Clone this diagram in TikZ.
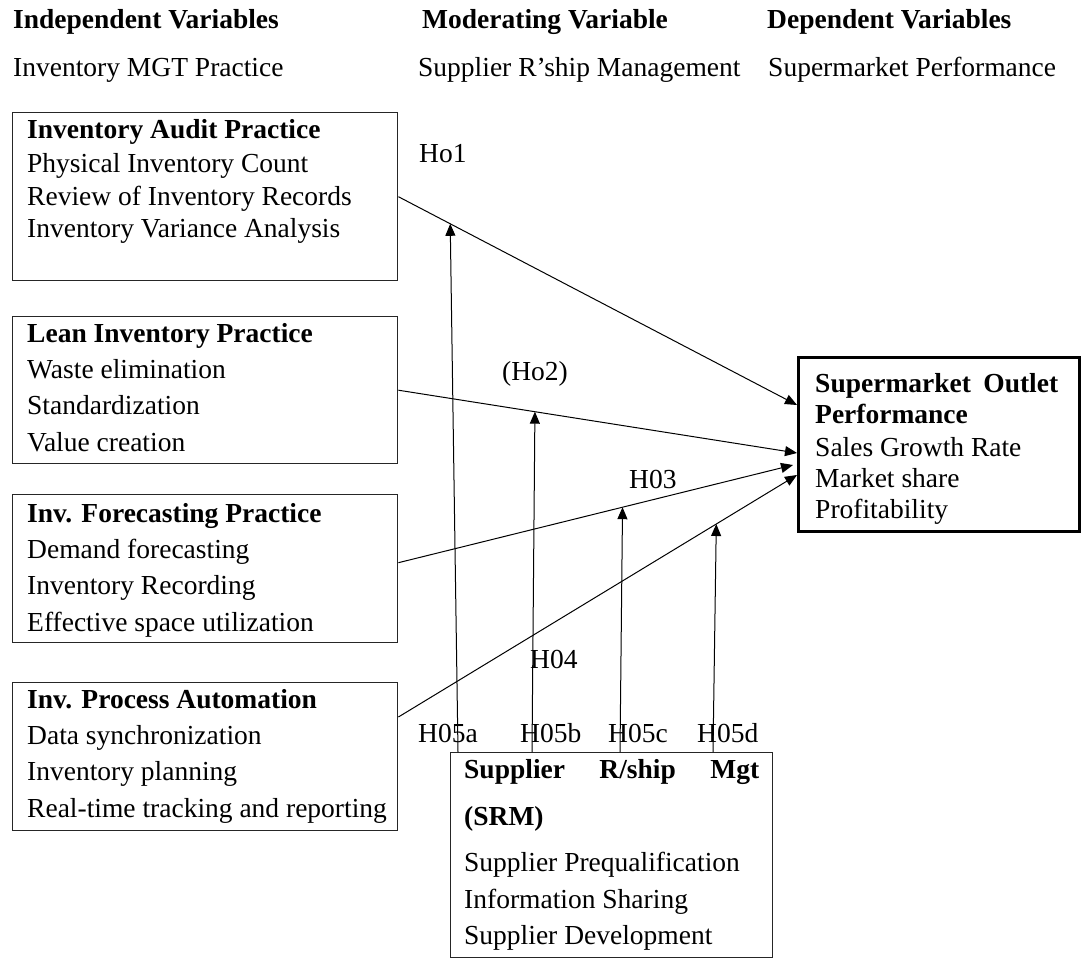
\documentclass[tikz,border=0pt]{standalone}
\usepackage{fontspec}
\setmainfont{Liberation Serif}
\usetikzlibrary{arrows.meta,calc}
\newcommand\fzmain{\fontsize{27.5pt}{36.3pt}\selectfont}
\begin{document}
\begin{tikzpicture}[x=1pt,y=-1pt,
  every node/.style={inner sep=0pt, font=\fzmain},
  boxnode/.style={draw=black!85, line width=1.4pt, anchor=north west, inner sep=0pt},
  bodytext/.style={align=left, anchor=north west},
  lab/.style={anchor=base west},
  conn/.style={line width=1pt, -{Triangle[length=12pt,width=10pt]}}]
\useasboundingbox (0,0) rectangle (1081,958);

% headers
\node[lab] (h1) at (13,29) {\textbf{Independent Variables}};
\node[lab] (h2) at (422,29) {\textbf{Moderating Variable}};
\node[lab] (h3) at (767,29) {\textbf{Dependent Variables}};
\node[lab] (s1) at (13,76) {Inventory MGT Practice};
\node[lab] (s2) at (418,76) {Supplier R’ship Management};
\node[lab] (s3) at (768,76) {Supermarket Performance};

% independent boxes
\node[boxnode, minimum width=385pt, minimum height=168pt] (b1) at (12,112) {};
\node[bodytext, font=\fontsize{27.5pt}{32.5pt}\selectfont] (t1) at (27,119)
  {\textbf{Inventory Audit Practice}\\[2pt] Physical Inventory Count\\ Review of Inventory Records\\ Inventory Variance Analysis};

\node[boxnode, minimum width=385pt, minimum height=147pt] (b2) at (12,316) {};
\node[bodytext] (t2) at (27,323)
  {\textbf{Lean Inventory Practice}\\ Waste elimination\\ Standardization\\ Value creation};

\node[boxnode, minimum width=385pt, minimum height=148pt] (b3) at (12,494) {};
\node[bodytext] (t3) at (27,503)
  {\textbf{Inv. Forecasting Practice}\\ Demand forecasting\\ Inventory Recording\\ Effective space utilization};

\node[boxnode, minimum width=385pt, minimum height=148pt] (b4) at (12,682) {};
\node[bodytext] (t4) at (27,689)
  {\textbf{Inv. Process Automation}\\ Data synchronization\\ Inventory planning\\ Real-time tracking and reporting};

% dependent box
\node[boxnode, line width=2.5pt, draw=black, minimum width=281pt, minimum height=174pt] (sop) at (797,356) {};
\node[bodytext, font=\fontsize{27.5pt}{31pt}\selectfont] (t5) at (815,373)
  {\textbf{Supermarket\hspace{12.4pt}Outlet}\\ \textbf{Performance}\\[2pt] Sales Growth Rate\\ Market share\\ Profitability};

% moderator box
\node[boxnode, minimum width=322pt, minimum height=205pt] (srm) at (450,752) {};
\node[bodytext] (t6) at (464,759)
  {\makebox[295pt][s]{\textbf{Supplier\hfill R/ship\hfill Mgt}}\\[10.5pt] \textbf{(SRM)}\\[10.5pt] Supplier Prequalification\\ Information Sharing\\ Supplier Development};

% hypothesis labels
\node[lab] (l1) at (419,162) {Ho1};
\node[lab] (l2) at (502,380) {(Ho2)};
\node[lab] (l3) at (629,488) {H03};
\node[lab] (l4) at (530,668) {H04};
\node[lab] (l5a) at (418,742) {H05a};
\node[lab] (l5b) at (520,742) {H05b};
\node[lab] (l5c) at (608,742) {H05c};
\node[lab] (l5d) at (697,742) {H05d};

% connector end points
\coordinate (e1) at ($(sop.north west)+(0,49)$);
\coordinate (e2) at ($(sop.north west)+(0,97)$);
\coordinate (e3) at ($(sop.north west)+(-4,109)$);
\coordinate (e4) at ($(sop.north west)+(0,119)$);
\coordinate (a3) at ($(b3.east)+(0,-6)$);
\coordinate (a4) at ($(b4.north east)+(0,35)$);

\draw[conn] (b1.east) -- (e1);
\draw[conn] (b2.east) -- (e2);
\draw[conn] (a3) -- (e3);
\draw[conn] (a4) -- (e4);

% moderating arrows
\coordinate (m1) at ($(b1.east)!0.13!(e1)$);
\coordinate (m2) at ($(b2.east)!0.3425!(e2)$);
\coordinate (m3) at ($(a3)!0.568!(e3)$);
\coordinate (m4) at ($(a4)!0.7975!(e4)$);
\coordinate (q1) at ($(srm.north west)+(8,0)$);
\coordinate (q2) at ($(srm.north west)+(82,0)$);
\coordinate (q3) at ($(srm.north west)+(170,0)$);
\coordinate (q4) at ($(srm.north west)+(263,0)$);

\draw[conn] (q1) -- (m1);
\draw[conn] (q2) -- (m2);
\draw[conn] (q3) -- (m3);
\draw[conn] (q4) -- (m4);
\end{tikzpicture}
\end{document}
